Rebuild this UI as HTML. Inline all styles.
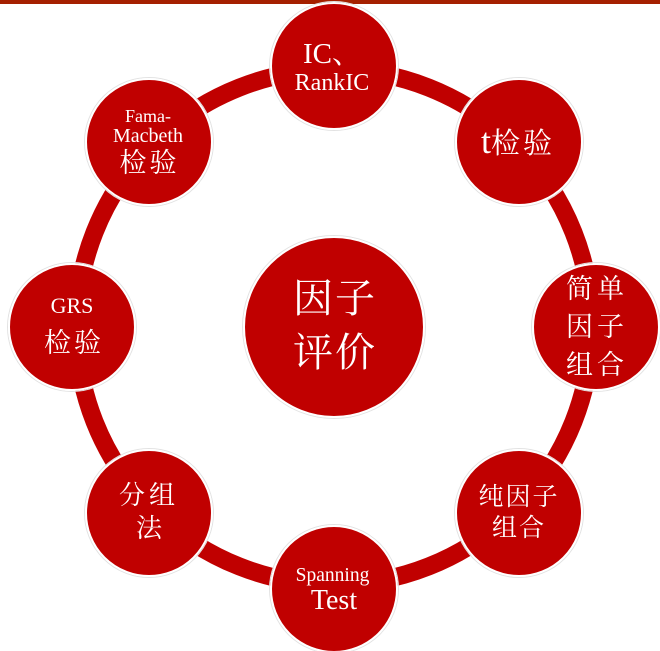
<!DOCTYPE html>
<html><head><meta charset="utf-8"><style>
html,body{margin:0;padding:0;background:#fff;width:660px;height:651px;overflow:hidden}
svg{display:block}
text{fill:#fff;font-family:"Liberation Serif","Noto Serif CJK SC",serif;text-anchor:middle}
.c{fill:#c00000;stroke:#fff;stroke-width:2}
.o{fill:none;stroke:#e2e2e2;stroke-width:1}
</style></head><body>
<svg width="660" height="651" viewBox="0 0 660 651" xmlns="http://www.w3.org/2000/svg">
<rect width="660" height="651" fill="#fff"/>
<rect width="660" height="4" fill="#a52000"/>
<circle cx="334" cy="327" r="257.5" fill="none" stroke="#c00000" stroke-width="18"/>
<g>
<circle class="o" cx="334" cy="66" r="64.5"/><circle class="c" cx="334" cy="66" r="63"/>
<circle class="o" cx="519" cy="142" r="64.5"/><circle class="c" cx="519" cy="142" r="63"/>
<circle class="o" cx="596" cy="327" r="64.5"/><circle class="c" cx="596" cy="327" r="63"/>
<circle class="o" cx="519" cy="513" r="64.5"/><circle class="c" cx="519" cy="513" r="63"/>
<circle class="o" cx="334" cy="589" r="64.5"/><circle class="c" cx="334" cy="589" r="63"/>
<circle class="o" cx="149" cy="513" r="64.5"/><circle class="c" cx="149" cy="513" r="63"/>
<circle class="o" cx="72" cy="327" r="64.5"/><circle class="c" cx="72" cy="327" r="63"/>
<circle class="o" cx="149" cy="142" r="64.5"/><circle class="c" cx="149" cy="142" r="63"/>
<circle class="o" cx="334" cy="327" r="91.5"/><circle class="c" cx="334" cy="327" r="90"/>
</g>
<text x="335" y="312" font-size="40" letter-spacing="2">因子</text>
<text x="335" y="366" font-size="40" letter-spacing="2">评价</text>
<text x="332" y="63" font-size="29">IC、</text>
<text x="332" y="90" font-size="24">RankIC</text>
<text x="518" y="153" font-size="29" letter-spacing="3"><tspan font-size="36" letter-spacing="0">t</tspan>检验</text>
<text x="597" y="298" font-size="27" letter-spacing="4">简单</text>
<text x="597" y="336" font-size="27" letter-spacing="4">因子</text>
<text x="597" y="374" font-size="27" letter-spacing="4">组合</text>
<text x="519" y="505" font-size="25" letter-spacing="2">纯因子</text>
<text x="519" y="536" font-size="25" letter-spacing="2">组合</text>
<text x="332.5" y="581" font-size="19.5">Spanning</text>
<text x="334" y="609" font-size="28">Test</text>
<text x="149" y="504" font-size="26" letter-spacing="4">分组</text>
<text x="149" y="537" font-size="26">法</text>
<text x="72" y="313" font-size="22">GRS</text>
<text x="74" y="352" font-size="27" letter-spacing="3">检验</text>
<text x="148" y="122" font-size="18">Fama-</text>
<text x="148" y="142" font-size="20">Macbeth</text>
<text x="149.5" y="172" font-size="27" letter-spacing="3">检验</text>
</svg>
</body></html>
